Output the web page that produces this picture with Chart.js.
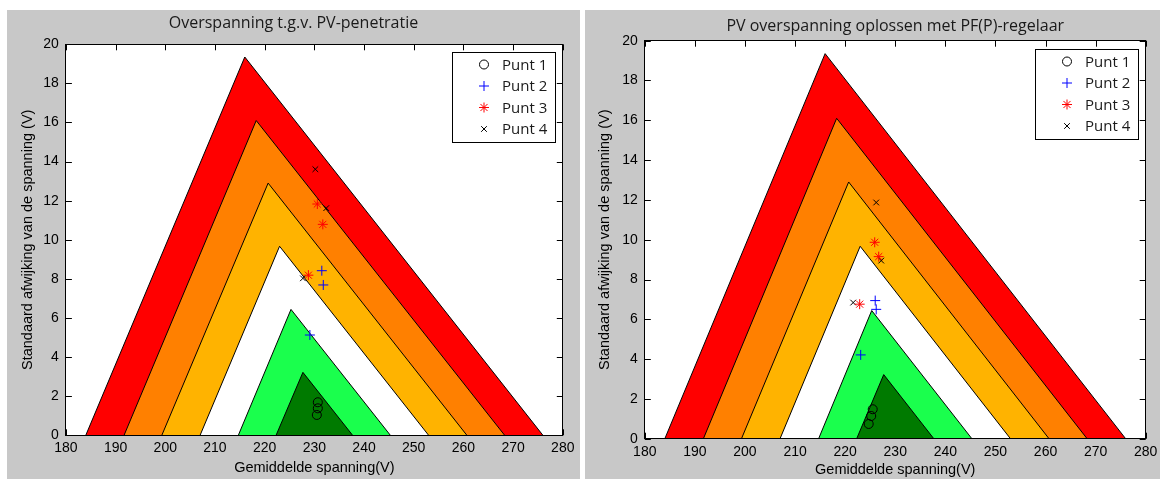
<!DOCTYPE html>
<html lang="nl">
<head>
<meta charset="UTF-8" />
<title>Overspanning PV</title>
<script src="https://cdn.jsdelivr.net/npm/chart.js@4"></script>
<style>
  body { margin: 0; background: #fff; width: 1160px; height: 479px; overflow: hidden; position: relative; }
  .paneel { position: absolute; top: 10px; height: 469px; background: #c8c8c8; }
  #paneelLinks { left: 7px; width: 573px; }
  #paneelRechts { left: 585px; width: 575px; }
  canvas { display: block; }
</style>
</head>
<body>
<div class="paneel" id="paneelLinks"><canvas id="grafiekLinks" width="573" height="469"></canvas></div>
<div class="paneel" id="paneelRechts"><canvas id="grafiekRechts" width="575" height="469"></canvas></div>
<script>
// Zones, van buiten naar binnen: linker voet, top (x, y), rechter voet
const zoneLinks  = [184.0, 191.7, 199.3, 207.0, 214.7, 222.3];
const zoneTopX   = [216.0, 218.3, 220.7, 223.0, 225.3, 227.7];
const zoneTopY   = [19.35, 16.1, 12.9, 9.67, 6.44, 3.22];
const zoneRechts = [276.0, 268.3, 260.7, 253.0, 245.3, 237.7];
const zoneKleuren = ['#ff0000', '#ff8000', '#ffb300', '#ffffff', '#1aff4d', '#007a00'];

const puntLabels = ['Punt 1', 'Punt 2', 'Punt 3', 'Punt 4'];

// Meetpunten bij PV-penetratie (links)
const penX = [
  [230.7, 230.7, 230.5],
  [231.5, 231.8, 229.1],
  [230.6, 231.7, 228.8],
  [230.2, 232.4, 227.7]
];
const penY = [
  [1.69, 1.38, 1.04],
  [8.42, 7.69, 5.13],
  [11.83, 10.79, 8.19],
  [13.61, 11.62, 8.03]
];

// Meetpunten met PF(P)-regelaar (rechts)
const regX = [
  [224.7, 225.2, 225.5],
  [226.0, 226.2, 223.1],
  [225.9, 226.7, 222.9],
  [226.2, 227.2, 221.6]
];
const regY = [
  [0.74, 1.14, 1.48],
  [6.94, 6.50, 4.21],
  [9.87, 9.15, 6.76],
  [11.87, 8.95, 6.84]
];

const markers = [
  { style: 'circle',   kleur: '#000000', r: 4.5 },
  { style: 'cross',    kleur: '#0000ff', r: 5 },
  { style: 'star',     kleur: '#ff0000', r: 5 },
  { style: 'crossRot', kleur: '#000000', r: 4 }
];

Chart.defaults.font.family = '"Liberation Sans", Arial, sans-serif';
Chart.defaults.color = '#000';

function zoneSets() {
  return zoneLinks.map((l, i) => ({
    type: 'line',
    data: [{ x: l, y: 0 }, { x: zoneTopX[i], y: zoneTopY[i] }, { x: zoneRechts[i], y: 0 }],
    backgroundColor: zoneKleuren[i],
    borderColor: '#000',
    borderWidth: 1,
    fill: 'origin',
    pointRadius: 0,
    tension: 0,
    order: 20 - i
  }));
}

function puntSets(xs, ys) {
  return puntLabels.map((label, i) => ({
    type: 'scatter',
    label: label,
    data: xs[i].map((x, j) => ({ x: x, y: ys[i][j] })),
    pointStyle: markers[i].style,
    pointRadius: markers[i].r,
    pointHoverRadius: markers[i].r,
    borderColor: markers[i].kleur,
    backgroundColor: 'rgba(0,0,0,0)',
    borderWidth: 1,
    order: 0
  }));
}

// witte achtergrond van het assenstelsel
const witVlak = {
  id: 'witVlak',
  beforeDraw(chart) {
    const { ctx, chartArea: a } = chart;
    ctx.save();
    ctx.fillStyle = '#fff';
    ctx.fillRect(a.left, a.top, a.right - a.left, a.bottom - a.top);
    ctx.restore();
  }
};

// korte streepjes naar binnen op alle vier de zijden, onder de vlakken
const binnenStreepjes = {
  id: 'binnenStreepjes',
  beforeDatasetsDraw(chart) {
    const { ctx, chartArea: a, scales } = chart;
    const L = 6;
    ctx.save();
    ctx.strokeStyle = '#000';
    ctx.lineWidth = 1;
    ctx.beginPath();
    scales.x.ticks.forEach(t => {
      const px = Math.round(scales.x.getPixelForValue(t.value)) + 0.5;
      ctx.moveTo(px, a.bottom); ctx.lineTo(px, a.bottom - L);
      ctx.moveTo(px, a.top); ctx.lineTo(px, a.top + L);
    });
    scales.y.ticks.forEach(t => {
      const py = Math.round(scales.y.getPixelForValue(t.value)) + 0.5;
      ctx.moveTo(a.left, py); ctx.lineTo(a.left + L, py);
      ctx.moveTo(a.right, py); ctx.lineTo(a.right - L, py);
    });
    ctx.stroke();
    ctx.restore();
  }
};

// legenda-kader rechtsboven binnen het assenstelsel
const legendaInVak = {
  id: 'legendaInVak',
  afterDraw(chart) {
    const { ctx, chartArea } = chart;
    const w = 104, h = 91;
    const x0 = Math.round(chartArea.right - 7 - w), y0 = Math.round(chartArea.top + 8);
    ctx.save();
    ctx.fillStyle = '#fff';
    ctx.fillRect(x0, y0, w, h);
    ctx.strokeStyle = '#000';
    ctx.lineWidth = 1;
    ctx.strokeRect(x0 + 0.5, y0 + 0.5, w - 1, h - 1);
    ctx.font = '15px "Open Sans"';
    ctx.textBaseline = 'middle';
    chart.data.datasets.filter(d => d.type === 'scatter').forEach((d, i) => {
      const y = y0 + 12.5 + i * 21.5;
      ctx.strokeStyle = d.borderColor;
      ctx.fillStyle = d.backgroundColor;
      ctx.lineWidth = d.borderWidth;
      Chart.helpers.drawPoint(ctx, { pointStyle: d.pointStyle, radius: d.pointRadius, rotation: 0, borderWidth: d.borderWidth }, x0 + 32, y);
      ctx.fillStyle = '#1a1a1a';
      ctx.fillText(d.label, x0 + 50, y + 1);
    });
    ctx.restore();
  }
};

function schalen(c) {
  const geenRaster = { display: false, drawTicks: false, tickLength: 0 };
  const rand = { display: true, color: '#000', width: 1, z: 1 };
  return {
    x: {
      type: 'linear', position: 'bottom', min: 180, max: 280,
      ticks: { stepSize: 10, padding: c.xPad, font: { size: 14 } },
      grid: geenRaster, border: rand,
      title: { display: true, text: 'Gemiddelde spanning(V)', font: { size: 14.5 }, padding: { top: 0, bottom: c.xTitel } },
      afterFit: s => { s.height = c.xHoogte; s.paddingLeft = 0; s.paddingRight = 0; }
    },
    y: {
      type: 'linear', position: 'left', min: 0, max: 20,
      ticks: { stepSize: 2, padding: 7, font: { size: 14 } },
      grid: geenRaster, border: rand,
      title: { display: true, text: 'Standaard afwijking van de spanning (V)', font: { size: 14.5 }, padding: { top: c.yTitel, bottom: 0 } },
      afterFit: s => { s.width = c.yBreedte; }
    },
    x2: {
      type: 'linear', position: 'top', min: 180, max: 280,
      ticks: { stepSize: 10, display: false },
      grid: geenRaster, border: rand,
      afterFit: s => { s.height = 0; s.paddingLeft = 0; s.paddingRight = 0; }
    },
    y2: {
      type: 'linear', position: 'right', min: 0, max: 20,
      ticks: { stepSize: 2, display: false },
      grid: geenRaster, border: rand,
      afterFit: s => { s.width = c.rechts; }
    }
  };
}

function maakGrafiek(id, titel, xs, ys, c) {
  return new Chart(document.getElementById(id), {
    type: 'scatter',
    data: { datasets: zoneSets().concat(puntSets(xs, ys)) },
    options: {
      responsive: false,
      animation: false,
      devicePixelRatio: 1,
      layout: { padding: 0 },
      scales: schalen(c),
      plugins: {
        legend: { display: false },
        tooltip: { enabled: false },
        title: {
          display: true, text: titel, fullSize: c.volleBreedte, color: '#1a1a1a',
          font: { family: '"Open Sans", sans-serif', size: 16, weight: 'normal' },
          padding: { top: c.tTop, bottom: c.tBottom }
        }
      }
    },
    plugins: [witVlak, binnenStreepjes, legendaInVak]
  });
}

maakGrafiek('grafiekLinks', 'Overspanning t.g.v. PV-penetratie', penX, penY, {
  xPad: 4, xTitel: 2.6, xHoogte: 43.7, yTitel: 12.1, yBreedte: 58.9,
  rechts: 17.2, tTop: 3.7, tBottom: 11.4, volleBreedte: true
});

maakGrafiek('grafiekRechts', 'PV overspanning oplossen met PF(P)-regelaar', regX, regY, {
  xPad: 4.6, xTitel: 0, xHoogte: 40.3, yTitel: 11.3, yBreedte: 59.8,
  rechts: 14.3, tTop: 6.4, tBottom: 5.1, volleBreedte: false
});
</script>
</body>
</html>
